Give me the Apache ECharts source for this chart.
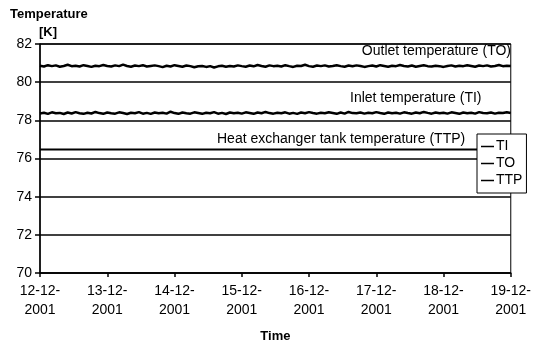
<!DOCTYPE html>
<html>
<head>
<meta charset="utf-8">
<script src="https://cdn.jsdelivr.net/npm/echarts@6/dist/echarts.min.js"></script>
<style>
  html, body { margin: 0; padding: 0; background: #fff; }
  #chart { width: 534px; height: 348px; }
</style>
</head>
<body>
<div id="chart"></div>
<script>
// tick labels on the time axis (one per day)
const dayLabels = ['12-12-\n2001', '13-12-\n2001', '14-12-\n2001', '15-12-\n2001',
  '16-12-\n2001', '17-12-\n2001', '18-12-\n2001', '19-12-\n2001']

// measured temperatures [K], samples evenly spread over the 7 days
const toValues = [
  80.86, 80.82, 80.89, 80.84, 80.88, 80.81, 80.85, 80.91, 80.84, 80.86,
  80.82, 80.89, 80.85, 80.80, 80.86, 80.84, 80.90, 80.85, 80.82, 80.88,
  80.84, 80.92, 80.85, 80.81, 80.87, 80.84, 80.89, 80.82, 80.85, 80.88,
  80.84, 80.79, 80.86, 80.82, 80.89, 80.85, 80.81, 80.87, 80.84, 80.78,
  80.83, 80.85, 80.80, 80.84, 80.77, 80.83, 80.86, 80.81, 80.85, 80.82,
  80.88, 80.84, 80.81, 80.87, 80.83, 80.90, 80.85, 80.81, 80.88, 80.84,
  80.86, 80.82, 80.89, 80.84, 80.80, 80.86, 80.85, 80.91, 80.84, 80.81,
  80.87, 80.84, 80.88, 80.82, 80.85, 80.89, 80.84, 80.81, 80.87, 80.83,
  80.88, 80.85, 80.80, 80.84, 80.87, 80.82, 80.89, 80.85, 80.81, 80.86,
  80.84, 80.90, 80.85, 80.82, 80.87, 80.81, 80.85, 80.89, 80.84, 80.82,
  80.86, 80.84, 80.80, 80.85, 80.88, 80.82, 80.86, 80.84, 80.89, 80.85,
  80.81, 80.87, 80.84, 80.88, 80.82, 80.85, 80.90, 80.84, 80.86, 80.85
]
const tiValues = [
  78.36, 78.40, 78.34, 78.42, 78.37, 78.39, 78.33, 78.41, 78.36, 78.43,
  78.37, 78.34, 78.40, 78.36, 78.44, 78.38, 78.34, 78.41, 78.37, 78.35,
  78.42, 78.38, 78.33, 78.40, 78.37, 78.43, 78.35, 78.39, 78.34, 78.41,
  78.37, 78.40, 78.35, 78.45, 78.38, 78.34, 78.41, 78.37, 78.35, 78.42,
  78.38, 78.34, 78.40, 78.37, 78.43, 78.35, 78.39, 78.33, 78.41, 78.37,
  78.40, 78.35, 78.42, 78.38, 78.34, 78.41, 78.37, 78.44, 78.38, 78.35,
  78.40, 78.37, 78.42, 78.35, 78.39, 78.34, 78.41, 78.37, 78.43, 78.38,
  78.35, 78.40, 78.37, 78.42, 78.38, 78.34, 78.41, 78.35, 78.44, 78.38,
  78.37, 78.41, 78.35, 78.40, 78.37, 78.43, 78.38, 78.34, 78.41, 78.37,
  78.40, 78.35, 78.42, 78.38, 78.35, 78.41, 78.37, 78.44, 78.39, 78.35,
  78.41, 78.37, 78.40, 78.35, 78.42, 78.38, 78.34, 78.41, 78.37, 78.40,
  78.35, 78.43, 78.38, 78.37, 78.41, 78.35, 78.40, 78.38, 78.42, 78.38
]
const ttpValues = [76.47, 76.47, 76.47, 76.47, 76.47, 76.47, 76.47, 76.47]

const FONT = "'Liberation Sans', Arial, sans-serif"
const DAYS = dayLabels.length - 1

// spread samples evenly over the measuring period
function toPoints(values) {
  return values.map((v, i) => [i * DAYS / (values.length - 1), v])
}

const chart = echarts.init(document.getElementById('chart'))

const lineSeries = (name, values, width) => ({
  name: name,
  type: 'line',
  data: toPoints(values),
  symbol: 'none',
  animation: false,
  lineStyle: { color: '#000', width: width },
  itemStyle: { color: '#000' }
})

chart.setOption({
  backgroundColor: '#fff',
  animation: false,
  grid: {
    left: 40, right: 20, top: 44, bottom: 69,
    show: true, borderColor: '#000', borderWidth: 1
  },
  legend: {
    data: ['TI', 'TO', 'TTP'],
    icon: 'rect',
    orient: 'vertical',
    left: 477, top: 134,
    padding: [5, 4, 5, 4],
    itemWidth: 13, itemHeight: 1.5, itemGap: 2,
    backgroundColor: '#fff',
    borderColor: '#000', borderWidth: 1,
    textStyle: { color: '#000', fontFamily: FONT, fontSize: 14, lineHeight: 15, padding: [0, 0, 0, -3] }
  },
  xAxis: {
    type: 'value',
    min: 0, max: DAYS, interval: 1,
    name: 'Time',
    nameLocation: 'middle',
    nameGap: 57,
    nameTextStyle: { color: '#000', fontFamily: FONT, fontSize: 13, fontWeight: 'bold' },
    axisLine: { lineStyle: { color: '#000', width: 1.5 } },
    axisTick: { show: true, length: 4, lineStyle: { color: '#000', width: 1.5 } },
    splitLine: { show: false },
    axisLabel: {
      color: '#000', fontFamily: FONT, fontSize: 14, lineHeight: 19, margin: 9,
      formatter: v => dayLabels[Math.round(v)]
    }
  },
  yAxis: {
    type: 'value',
    min: 70, max: 82, interval: 2,
    axisLine: { show: true, lineStyle: { color: '#000', width: 1.5 } },
    axisTick: { show: true, length: 5, lineStyle: { color: '#000', width: 1.5 } },
    splitLine: { show: true, lineStyle: { color: '#000', width: 1.5 } },
    axisLabel: { color: '#000', fontFamily: FONT, fontSize: 14, margin: 8 }
  },
  graphic: [
    { type: 'text', left: 10, top: 8, style: { text: 'Temperature', font: 'bold 13px ' + FONT, fill: '#000' } },
    { type: 'text', left: 39, top: 26, style: { text: '[K]', font: 'bold 13px ' + FONT, fill: '#000' } },
    { type: 'text', right: 23, top: 44, style: { text: 'Outlet temperature (TO)', font: '14px ' + FONT, fill: '#000' } },
    { type: 'text', left: 350, top: 91, style: { text: 'Inlet temperature (TI)', font: '14px ' + FONT, fill: '#000' } },
    { type: 'text', left: 217, top: 132, style: { text: 'Heat exchanger tank temperature (TTP)', font: '14px ' + FONT, fill: '#000' } }
  ],
  series: [
    lineSeries('TI', tiValues, 2.5),
    lineSeries('TO', toValues, 2.5),
    lineSeries('TTP', ttpValues, 2)
  ]
})
</script>
</body>
</html>
